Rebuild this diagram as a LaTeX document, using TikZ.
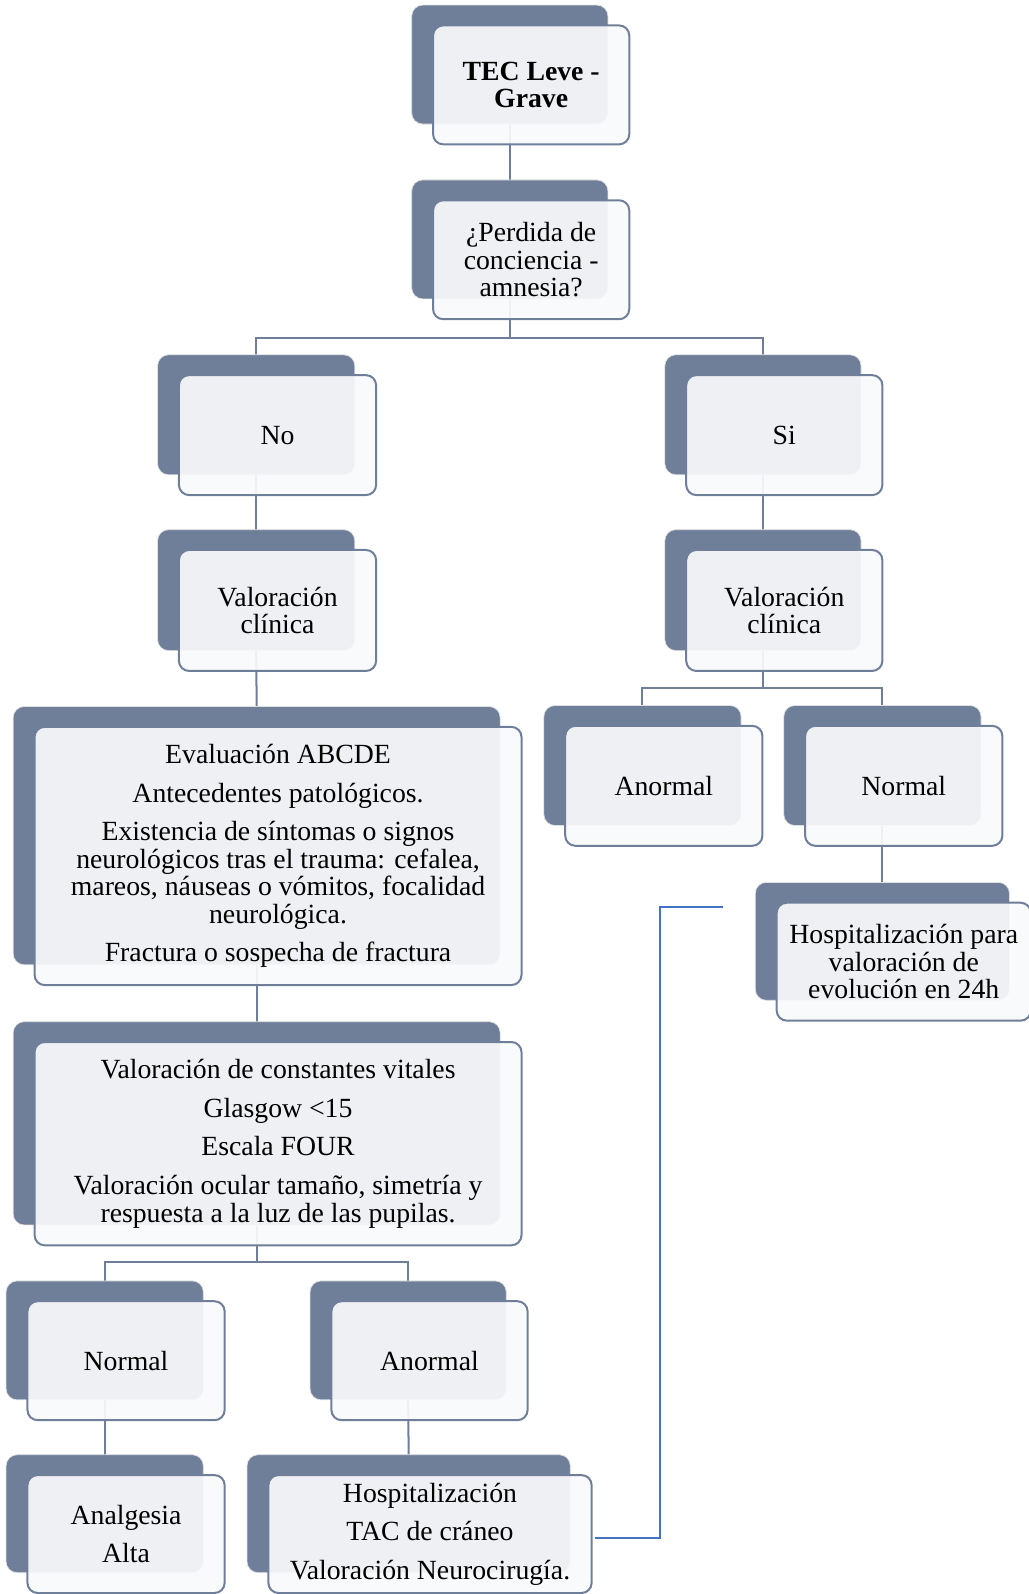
\documentclass[tikz,border=0pt]{standalone}
\usepackage{fontspec}
\setmainfont{Liberation Serif}
\usetikzlibrary{calc}

\definecolor{slate}{RGB}{111,127,154}
\definecolor{paper}{RGB}{249,250,251}
\definecolor{jump}{RGB}{68,114,196}

\newlength\pxu
\setlength\pxu{0.025cm}

\pgfdeclarelayer{links}
\pgfsetlayers{links,main}

\tikzset{
  backcard/.style={draw=black!12, line width=0.5pt, fill=slate,
    rounded corners=0.27cm, inner sep=0pt, outer sep=0pt},
  frontcard/.style={draw=slate, line width=1.4pt, fill=paper, fill opacity=0.92,
    text opacity=1, rounded corners=0.25cm, inner sep=0pt, outer sep=0pt,
    align=center, font=\fontsize{19.4pt}{19.2pt}\selectfont},
  link/.style={draw=slate, line width=1.4pt},
  jumplink/.style={draw=jump, line width=1.1pt},
}

% card: name, centre x, centre y, width, height, text
\newcommand\card[6]{%
  \node[backcard, minimum width=#4*\pxu, minimum height=#5*\pxu] (#1Back) at (#2-21,#3-20) {};
  \node[frontcard, minimum width=#4*\pxu, minimum height=#5*\pxu] (#1) at (#2,#3) {#6};
}
\newcommand\gap{\\[0.275cm]}

\begin{document}
\begin{tikzpicture}[x=0.025cm, y=-0.025cm]
\useasboundingbox (0,0) rectangle (1012,1568);

\card{tec}{522.5}{83.5}{193}{117}{\textbf{TEC Leve -}\\\textbf{Grave}}
\card{per}{522.5}{255.5}{193}{117}{¿Perdida de\\conciencia -\\amnesia?}
\card{no}{273}{428}{194}{118}{No}
\card{si}{771.5}{428}{193}{118}{Si}
\card{valL}{273}{600.5}{194}{119}{Valoración\\clínica}
\card{valR}{771.5}{600.5}{193}{119}{Valoración\\clínica}
\card{eva}{273.5}{842}{479}{254}{Evaluación ABCDE\gap Antecedentes patológicos.\gap Existencia de síntomas o signos\\neurológicos tras el trauma: cefalea,\\mareos, náuseas o vómitos, focalidad\\neurológica.\gap Fractura o sospecha de fractura}
\card{con}{273.5}{1125}{479}{200}{Valoración de constantes vitales\gap Glasgow <15\gap Escala FOUR\gap Valoración ocular tamaño, simetría y\\respuesta a la luz de las pupilas.}
\card{abnR}{653}{773}{194}{118}{Anormal}
\card{normR}{889}{773}{194}{118}{Normal}
\card{hosR}{889}{946}{250}{116}{Hospitalización para\\valoración de\\evolución en 24h}
\card{normL}{124}{1338.5}{194}{117}{Normal}
\card{abnL}{422.5}{1338.5}{193}{117}{Anormal}
\card{ana}{124}{1509}{194}{116}{Analgesia\gap Alta}
\card{hosp}{423}{1509}{318}{116}{Hospitalización\gap TAC de cráneo\gap Valoración Neurocirugía.}

\coordinate (jogTop) at (649,892);
\coordinate (jogEnd) at (711,892);

\begin{pgfonlayer}{links}
  \draw[link] (tecBack.south) -- (perBack.north);
  \draw[link] (perBack.south) -- ++(0,38) -| (noBack.north);
  \draw[link] (perBack.south) -- ++(0,38) -| (siBack.north);
  \draw[link] (noBack.south) -- (valLBack.north);
  \draw[link] (siBack.south) -- (valRBack.north);
  \draw[link] (valLBack.south) -- (evaBack.north);
  \draw[link] (evaBack.south) -- (conBack.north);
  \draw[link] (valRBack.south) -- ++(0,37) -| (abnRBack.north);
  \draw[link] (valRBack.south) -- ++(0,37) -| (normRBack.north);
  \draw[link] (normRBack.south) -- (hosRBack.north);
  \draw[link] (conBack.south) -- ++(0,36) -| (normLBack.north);
  \draw[link] (conBack.south) -- ++(0,36) -| (abnLBack.north);
  \draw[link] (normLBack.south) -- (anaBack.north);
  \draw[link] (abnLBack.south) -- (hospBack.north);
\end{pgfonlayer}

\draw[jumplink] ([shift={(3,4)}]hosp.east) -| (jogTop) -- (jogEnd);
\end{tikzpicture}
\end{document}
